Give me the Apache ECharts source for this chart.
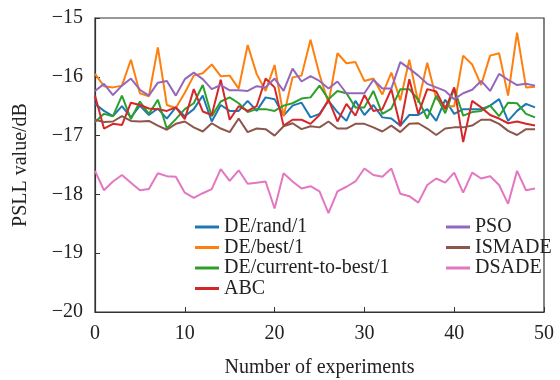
<!DOCTYPE html>
<html>
<head>
<meta charset="utf-8">
<script src="https://cdn.jsdelivr.net/npm/echarts@6/dist/echarts.min.js"></script>
<style>
  html, body { margin: 0; padding: 0; background: #fff; }
  #chart { width: 560px; height: 380px; }
</style>
</head>
<body>
<div id="chart"></div>
<script>
var seriesNames = ['DE/rand/1', 'DE/best/1', 'DE/current-to-best/1', 'ABC', 'PSO', 'ISMADE', 'DSADE'];
var xTicks = [0, 10, 20, 30, 40, 50];
var yTicks = [-20, -19, -18, -17, -16, -15];

var deRand = [-16.46, -16.58, -16.67, -16.50, -16.69, -16.49, -16.65, -16.54, -16.71, -16.52,
    -16.67, -16.55, -16.32, -16.76, -16.48, -16.58, -16.58, -16.41, -16.58, -16.35,
    -16.38, -16.66, -16.49, -16.44, -16.69, -16.63, -16.41, -16.60, -16.75, -16.41,
    -16.65, -16.48, -16.69, -16.71, -16.83, -16.65, -16.65, -16.55, -16.75, -16.39,
    -16.63, -16.55, -16.55, -16.55, -16.49, -16.38, -16.75, -16.58, -16.46, -16.52];
var deBest = [-15.95, -16.16, -16.18, -16.15, -15.71, -16.28, -16.33, -15.50, -16.48, -16.53,
    -16.27, -15.98, -15.94, -15.79, -15.99, -15.98, -16.20, -15.46, -15.95, -16.24,
    -15.80, -16.67, -16.01, -15.98, -15.37, -15.96, -16.45, -15.60, -15.77, -15.75,
    -16.07, -16.03, -16.30, -15.93, -16.40, -15.71, -16.44, -15.76, -16.37, -16.50,
    -16.50, -15.64, -15.79, -16.14, -15.64, -15.60, -16.32, -15.25, -16.18, -16.17];
var deCurBest = [-16.77, -16.63, -16.67, -16.32, -16.72, -16.42, -16.63, -16.39, -16.88, -16.72,
    -16.55, -16.45, -16.14, -16.67, -16.42, -16.35, -16.45, -16.60, -16.55, -16.55,
    -16.58, -16.49, -16.45, -16.37, -16.35, -16.15, -16.38, -16.24, -16.28, -16.52,
    -16.52, -16.24, -16.63, -16.54, -16.21, -16.21, -16.39, -16.71, -16.32, -16.62,
    -16.20, -16.66, -16.60, -16.58, -16.49, -16.67, -16.44, -16.45, -16.63, -16.69];
var abc = [-16.32, -16.88, -16.80, -16.82, -16.44, -16.48, -16.54, -16.55, -16.58, -16.52,
    -16.72, -16.21, -16.59, -16.65, -16.05, -16.73, -16.50, -16.58, -16.50, -16.03,
    -16.18, -16.83, -16.73, -16.73, -16.80, -16.65, -16.39, -16.76, -16.46, -16.66,
    -16.31, -16.58, -16.55, -16.21, -16.84, -16.04, -16.63, -16.21, -16.25, -16.55,
    -16.18, -17.11, -16.41, -16.52, -16.65, -16.71, -16.79, -16.76, -16.80, -16.83];
var pso = [-16.24, -16.12, -16.31, -16.15, -16.03, -16.22, -16.32, -16.10, -16.07, -16.32,
    -16.04, -15.93, -16.04, -16.21, -16.14, -16.23, -16.23, -16.24, -16.16, -16.18,
    -16.03, -16.24, -15.86, -16.08, -15.99, -16.07, -16.20, -16.08, -16.28, -16.28,
    -16.28, -16.05, -16.20, -16.20, -15.75, -15.86, -15.98, -16.12, -16.18, -16.24,
    -16.38, -16.28, -16.22, -16.07, -16.24, -15.95, -16.05, -16.14, -16.12, -16.15];
var ismade = [-16.73, -16.77, -16.76, -16.67, -16.75, -16.76, -16.75, -16.83, -16.90, -16.80,
    -16.76, -16.86, -16.93, -16.79, -16.88, -16.94, -16.71, -16.94, -16.88, -16.89,
    -17.00, -16.84, -16.79, -16.89, -16.84, -16.86, -16.76, -16.88, -16.88, -16.80,
    -16.80, -16.86, -16.93, -16.83, -16.94, -16.80, -16.79, -16.88, -16.99, -16.88,
    -16.86, -16.86, -16.83, -16.73, -16.73, -16.80, -16.92, -16.99, -16.89, -16.89];
var dsade = [-17.60, -17.93, -17.78, -17.67, -17.80, -17.93, -17.91, -17.64, -17.69, -17.70,
    -17.97, -18.06, -17.98, -17.91, -17.57, -17.77, -17.59, -17.82, -17.80, -17.78,
    -18.24, -17.64, -17.78, -17.90, -17.86, -17.95, -18.32, -17.95, -17.87, -17.78,
    -17.56, -17.67, -17.70, -17.56, -17.99, -18.03, -18.14, -17.84, -17.73, -17.80,
    -17.63, -17.97, -17.63, -17.73, -17.69, -17.84, -18.16, -17.60, -17.93, -17.90];

var seriesData = [deRand, deBest, deCurBest, abc, pso, ismade, dsade];
var colors = ['#1f77b4', '#ff7f0e', '#2ca02c', '#d62728', '#9467bd', '#8c564b', '#e377c2'];
var fontFamily = '"Liberation Serif", "DejaVu Serif", serif';

function toPairs(arr) {
    return arr.map(function(v, i) { return [i, v]; });
}

var _chart = echarts.init(document.getElementById('chart'));

var legendText = {
    fontFamily: fontFamily,
    fontSize: 20,
    color: '#222'
};

var _option = {
    backgroundColor: '#fff',
    animation: false,
    color: colors,
    grid: {
        left: 95,
        right: 16,
        top: 18,
        bottom: 68,
        containLabel: false,
        outerBoundsMode: 'none',
        show: true,
        borderColor: '#333',
        borderWidth: 1.2
    },
    legend: [{
        data: seriesNames.slice(0, 4),
        orient: 'vertical',
        left: 190,
        top: 212,
        icon: 'rect',
        itemWidth: 24,
        itemHeight: 3,
        itemGap: 0.5,
        textStyle: legendText
    }, {
        data: seriesNames.slice(4),
        orient: 'vertical',
        left: 441,
        top: 212,
        icon: 'rect',
        itemWidth: 24,
        itemHeight: 3,
        itemGap: 0.5,
        textStyle: legendText
    }],
    xAxis: {
        type: 'value',
        min: xTicks[0],
        max: xTicks[xTicks.length - 1],
        interval: 10,
        name: 'Number of experiments',
        nameLocation: 'middle',
        nameGap: 46,
        nameTextStyle: { fontFamily: fontFamily, fontSize: 20, color: '#222' },
        axisLine: { lineStyle: { color: '#333', width: 1.2 } },
        axisTick: { inside: true, length: 5, lineStyle: { color: '#333' } },
        axisLabel: { fontFamily: fontFamily, fontSize: 20, color: '#222', margin: 12 },
        splitLine: { show: false }
    },
    yAxis: {
        type: 'value',
        min: yTicks[0],
        max: yTicks[yTicks.length - 1],
        interval: 1,
        name: 'PSLL value/dB',
        nameLocation: 'middle',
        nameGap: 64,
        nameTextStyle: { fontFamily: fontFamily, fontSize: 20, color: '#222' },
        axisLine: { lineStyle: { color: '#333', width: 1.2 } },
        axisTick: { inside: true, length: 5, lineStyle: { color: '#333' } },
        axisLabel: {
            fontFamily: fontFamily,
            fontSize: 20,
            color: '#222',
            margin: 12,
            formatter: function(v) {
                return v < 0 ? '\u2212' + Math.abs(v) : String(v);
            }
        },
        splitLine: { show: false }
    },
    series: seriesNames.map(function(name, k) {
        return {
            name: name,
            type: 'line',
            data: toPairs(seriesData[k]),
            showSymbol: false,
            symbol: 'none',
            lineStyle: { width: 2, color: colors[k] },
            itemStyle: { color: colors[k] }
        };
    })
};

_chart.setOption(_option);
</script>
</body>
</html>
